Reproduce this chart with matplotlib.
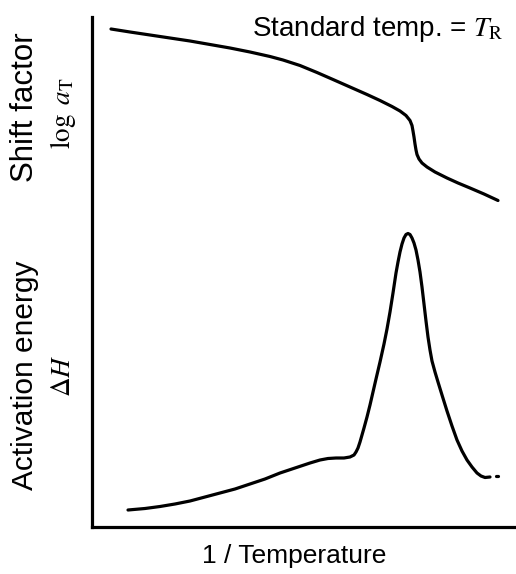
import matplotlib.pyplot as plt

# shift factor curve, read in pixel-like units (x = 1/T, y = log aT)
shift_x = [19, 38, 58, 78, 98, 118, 138, 158, 178, 191, 208, 225, 241, 258, 275, 288,
           300, 308, 314, 318, 320, 321, 322, 323, 324, 325, 327, 330, 335, 343, 355,
           366, 378, 392, 406]
shift_y = [498, 495, 492, 489, 486, 482.5, 479, 475, 470.5, 467, 461.5, 454.5, 447.5,
           440, 432.5, 426.5, 420.5, 416, 411.5, 406.5, 401.5, 396, 390, 383, 377, 372.5,
           368, 364, 360, 355, 349, 344, 339, 333, 326.5]

# activation energy curve
dh_x = [36, 53, 68, 83, 98, 113, 128, 143, 158, 173, 188, 203, 218, 228, 236, 244, 252,
        258, 262, 264, 266, 268, 270, 272, 275, 278, 281, 284, 288, 292, 295, 298, 301,
        304, 306, 308, 310, 312, 314, 316, 318, 320, 322, 324, 326, 328, 330, 332, 334,
        336, 338, 340, 343, 346, 350, 355, 360, 365, 370, 375, 380, 385, 389, 393, 398]
dh_y = [17, 18.5, 20.5, 23, 26, 30, 34, 38, 43, 48, 54, 59, 64, 67, 68.5, 69, 69, 70,
        72, 75, 79, 85, 92, 99, 110, 122, 135, 148, 165, 183, 198, 215, 234, 254, 265,
        275, 283, 289, 292.5, 293.5, 292.5, 289, 284, 277, 267, 255, 240, 223, 206,
        190, 177, 166, 155, 145, 132, 116, 101, 87, 76, 67, 60, 54, 51, 49.5, 50]
# stray end mark
tail_x = [404, 406]
tail_y = [51, 51]

fig = plt.figure(figsize=(5.16, 5.74), dpi=100)
ax = fig.add_axes([92/516, 47/574, 424/516, 510/574])
ax.plot(shift_x, shift_y, color='black', lw=2.3, solid_capstyle='round',
        solid_joinstyle='round')
ax.plot(dh_x, dh_y, color='black', lw=2.3, solid_capstyle='round',
        solid_joinstyle='round')
ax.plot(tail_x, tail_y, color='black', lw=2.3, solid_capstyle='round')
ax.set_xlim(0, 424)
ax.set_ylim(0, 510)
ax.set_xticks([])
ax.set_yticks([])
for s in ['top', 'right']:
    ax.spines[s].set_visible(False)
for s in ['left', 'bottom']:
    ax.spines[s].set_linewidth(2.3)

sans = 'Liberation Sans'
W, H = 516, 574

def ftext(px, py, s, **kw):
    fig.text(px / W, 1 - py / H, s, ha='center', va='center', **kw)

ftext(378, 29, 'Standard temp. = $T_\\mathrm{R}$', fontsize=20, family=sans,
      math_fontfamily='stix')
ftext(294, 556, '1 / Temperature', fontsize=19, family=sans)
ftext(25, 107, 'Shift factor', fontsize=22.5, family=sans, rotation=90)
ftext(63, 113, '$\\log\\ a_\\mathrm{T}$', fontsize=19.5, rotation=90,
      math_fontfamily='stix')
ftext(25, 375, 'Activation energy', fontsize=21.5, family=sans, rotation=90)
ftext(63, 376, '$\\Delta H$', fontsize=19.5, rotation=90, math_fontfamily='stix')

fig.savefig('out.png', dpi=100)
